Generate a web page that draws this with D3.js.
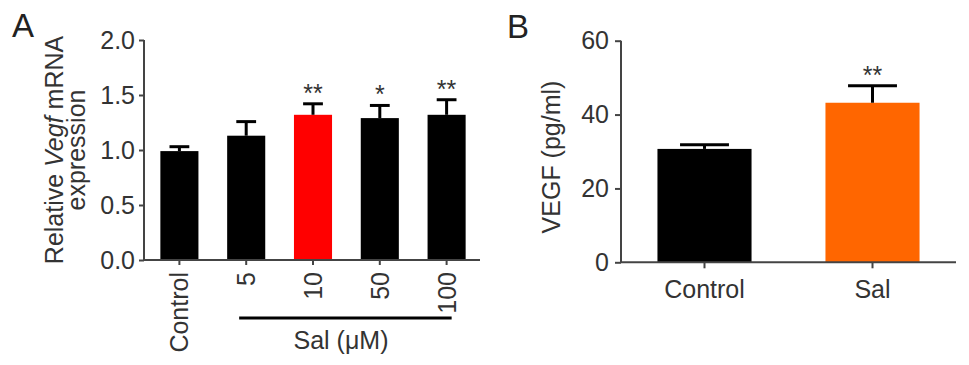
<!DOCTYPE html>
<html>
<head>
<meta charset="utf-8">
<script src="https://cdn.jsdelivr.net/npm/d3@7"></script>
<style>
  body { margin: 0; background: #fff; }
  svg text { font-family: "Liberation Sans", Arial, Helvetica, sans-serif; fill: #333; }
  .axis path, .axis line { stroke: #444; stroke-width: 2px; }
</style>
</head>
<body>
<svg id="chart" width="969" height="365"></svg>
<script>
// panel A - relative Vegf mRNA
var catsA = ["Control", "5", "10", "50", "100"];
var meansA = [0.99, 1.13, 1.32, 1.29, 1.32];
var errA = [0.04, 0.128, 0.10, 0.115, 0.137];
var starsA = ["", "", "**", "*", "**"];
var colorsA = ["#000", "#000", "#ff0000", "#000", "#000"];
var ticksA = [0, 0.5, 1.0, 1.5, 2.0];

// panel B - VEGF protein
var catsB = ["Control", "Sal"];
var meansB = [30.7, 43.2];
var errB = [1.1, 4.6];
var starsB = ["", "**"];
var colorsB = ["#000", "#ff6600"];
var ticksB = [0, 20, 40, 60];

var svg = d3.select("#chart");

function drawBars(g, cats, means, errs, stars, colors, x, y) {
  var bw = x.bandwidth();
  var capW = bw * 0.52;
  var data = cats.map(function(c, i) {
    return { cat: c, mean: means[i], err: errs[i], star: stars[i], color: colors[i] };
  });

  g.selectAll(".bar")
    .data(data)
    .enter().append("rect")
    .attr("class", "bar")
    .attr("x", function(d) { return x(d.cat); })
    .attr("width", bw)
    .attr("y", function(d) { return y(d.mean); })
    .attr("height", function(d) { return y(0) - y(d.mean); })
    .style("fill", function(d) { return d.color; });

  var eb = g.selectAll(".err")
    .data(data)
    .enter().append("g")
    .attr("class", "err")
    .attr("transform", function(d) { return "translate(" + (x(d.cat) + bw / 2) + ",0)"; });
  eb.append("line")
    .attr("x1", 0).attr("x2", 0)
    .attr("y1", function(d) { return y(d.mean); })
    .attr("y2", function(d) { return y(d.mean + d.err); })
    .style("stroke", "#000").style("stroke-width", 3);
  eb.append("line")
    .attr("x1", -capW / 2).attr("x2", capW / 2)
    .attr("y1", function(d) { return y(d.mean + d.err); })
    .attr("y2", function(d) { return y(d.mean + d.err); })
    .style("stroke", "#000").style("stroke-width", 3);
  eb.append("text")
    .attr("y", function(d) { return y(d.mean + d.err) - 2; })
    .attr("text-anchor", "middle")
    .style("font-size", "25px")
    .text(function(d) { return d.star; });
}

// ---------- panel A ----------
var gA = svg.append("g");
var xA = d3.scaleBand().domain(catsA).range([146, 480]).paddingInner(0.43).paddingOuter(0.215);
var yA = d3.scaleLinear().domain([0, 2]).range([260, 40]);

drawBars(gA, catsA, meansA, errA, starsA, colorsA, xA, yA);

gA.append("g")
  .attr("class", "axis")
  .attr("transform", "translate(144,0)")
  .call(d3.axisLeft(yA).tickValues(ticksA).tickFormat(d3.format(".1f")).tickSize(5).tickPadding(4).tickSizeOuter(0))
  .call(function(a) {
    a.select(".domain").attr("d", "M0," + yA(2) + "V" + yA(0));
    a.selectAll(".tick text").style("font-size", "25px").attr("fill", "#333");
  });

gA.append("g")
  .attr("class", "axis")
  .attr("transform", "translate(0,260)")
  .call(d3.axisBottom(xA).tickSize(5).tickSizeOuter(0))
  .call(function(a) {
    a.select(".domain").attr("d", "M144,0H480");
    a.selectAll(".tick text")
      .style("font-size", "25px").attr("fill", "#333")
      .attr("transform", "rotate(-90)")
      .attr("x", -12).attr("y", 0).attr("dy", "0.36em")
      .style("text-anchor", "end");
  });

// Sal bracket
gA.append("line")
  .attr("x1", xA("5") + 12).attr("x2", xA("100") + xA.bandwidth() - 14)
  .attr("y1", 318).attr("y2", 318)
  .style("stroke", "#000").style("stroke-width", 3);
gA.append("text")
  .attr("x", 341).attr("y", 349)
  .attr("text-anchor", "middle")
  .style("font-size", "25px")
  .text("Sal (\u03bcM)");

var ylabA = gA.append("text")
  .attr("transform", "translate(63,150) rotate(-90)")
  .attr("text-anchor", "middle")
  .style("font-size", "25px");
ylabA.append("tspan").text("Relative ");
ylabA.append("tspan").style("font-style", "italic").text("Vegf");
ylabA.append("tspan").text(" mRNA");
gA.append("text")
  .attr("transform", "translate(85,150) rotate(-90)")
  .attr("text-anchor", "middle")
  .style("font-size", "25px")
  .text("expression");

gA.append("text")
  .attr("x", 12).attr("y", 37)
  .style("font-size", "33px").style("fill", "#222")
  .text("A");

// ---------- panel B ----------
var gB = svg.append("g");
var xB = d3.scaleBand().domain(catsB).range([621, 956]).paddingInner(0.44).paddingOuter(0.217);
var yB = d3.scaleLinear().domain([0, 60]).range([262.3, 40.7]);

drawBars(gB, catsB, meansB, errB, starsB, colorsB, xB, yB);

gB.append("g")
  .attr("class", "axis")
  .attr("transform", "translate(621,0)")
  .call(d3.axisLeft(yB).tickValues(ticksB).tickSize(6).tickPadding(6).tickSizeOuter(0))
  .call(function(a) {
    a.select(".domain").attr("d", "M0," + yB(60) + "V" + yB(0));
    a.selectAll(".tick text").style("font-size", "25px").attr("fill", "#333");
  });

gB.append("g")
  .attr("class", "axis")
  .attr("transform", "translate(0," + yB(0) + ")")
  .call(d3.axisBottom(xB).tickSize(6).tickPadding(12).tickSizeOuter(0))
  .call(function(a) {
    a.select(".domain").attr("d", "M621,0H956");
    a.selectAll(".tick text").style("font-size", "25px").attr("fill", "#333");
  });

gB.append("text")
  .attr("transform", "translate(560,157) rotate(-90)")
  .attr("text-anchor", "middle")
  .style("font-size", "25px")
  .text("VEGF (pg/ml)");

gB.append("text")
  .attr("x", 507).attr("y", 38)
  .style("font-size", "33px").style("fill", "#222")
  .text("B");
</script>
</body>
</html>
